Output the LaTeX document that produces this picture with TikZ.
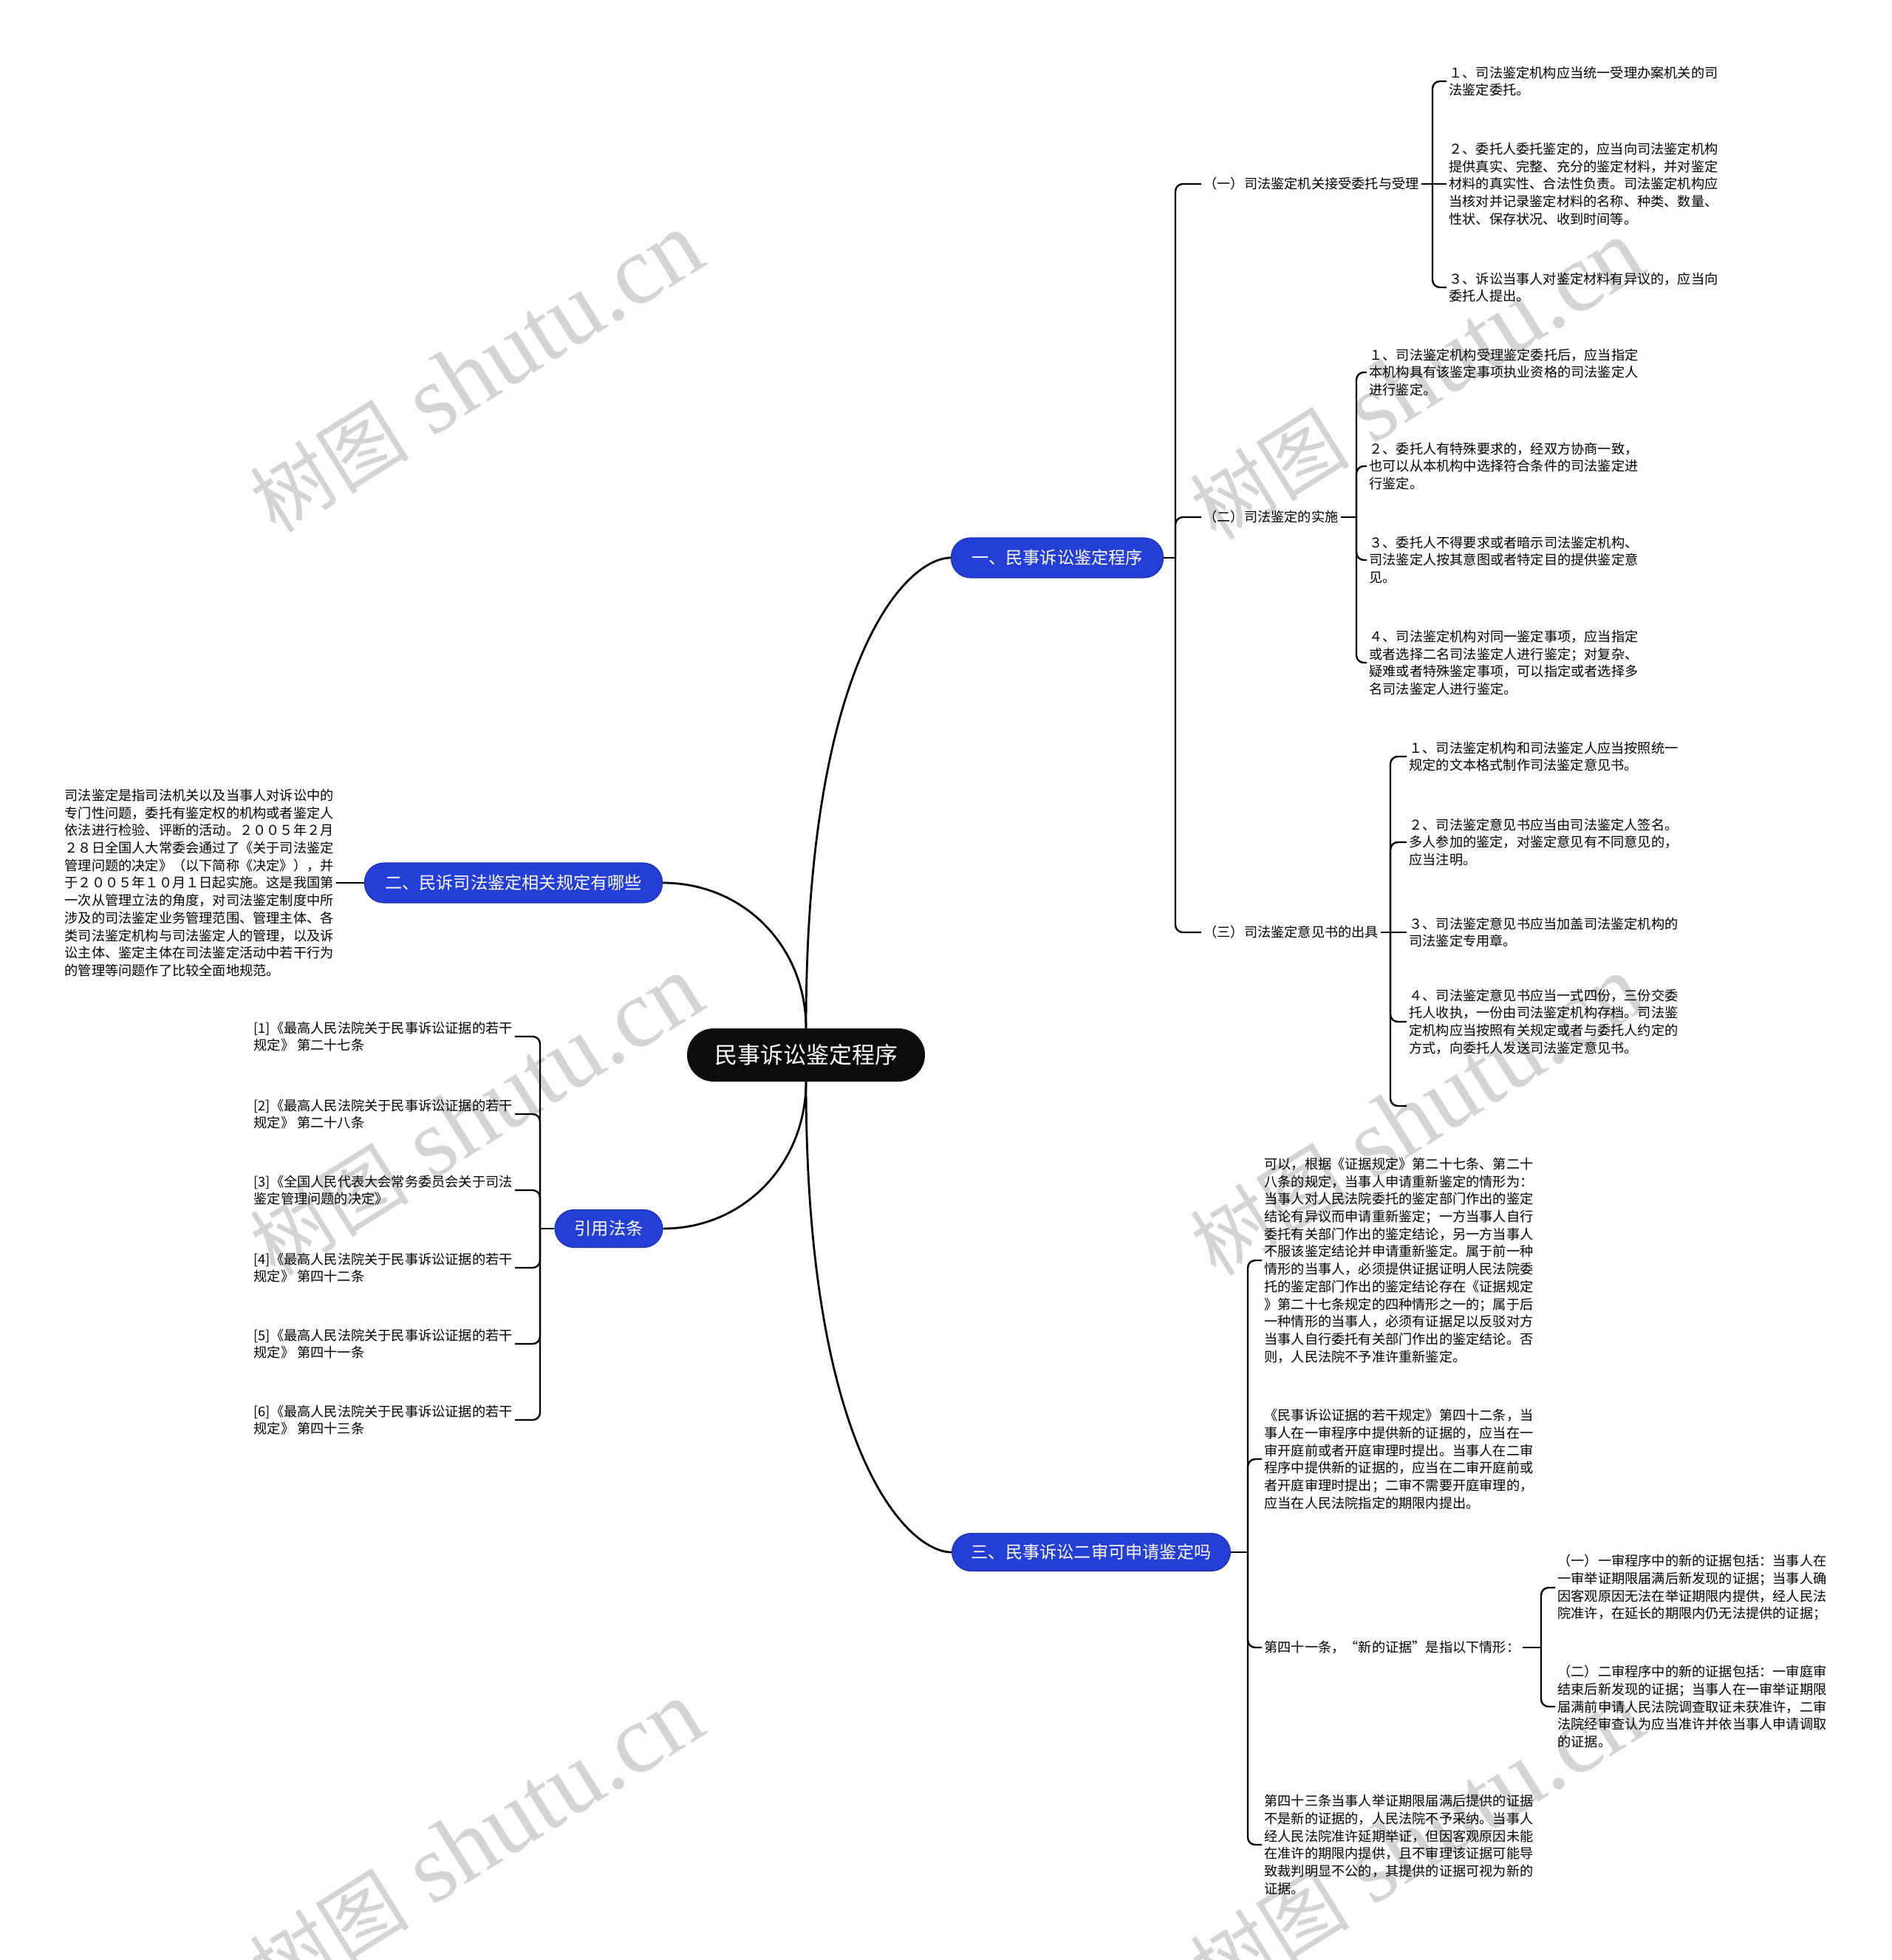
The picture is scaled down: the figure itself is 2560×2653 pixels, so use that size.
\documentclass[tikz,border=0pt]{standalone}
\usepackage{fontspec}
\setmainfont{Noto Sans CJK SC}
\newfontfamily\wmlatin{Liberation Serif}
\usepackage{tikz}
\usetikzlibrary{positioning, calc}
\definecolor{rootblack}{RGB}{12, 12, 12}
\definecolor{topicblue}{RGB}{36, 62, 214}
\definecolor{topicedge}{RGB}{28, 48, 180}
\definecolor{wmgray}{RGB}{212, 212, 212}
\newcommand{\wmtext}{{\fontsize{54}{54}\selectfont 树图}\hspace{16pt}{\wmlatin\fontsize{66}{66}\selectfont shutu.cn}}

\begin{document}
\begin{tikzpicture}[x=0.5pt, y=-0.5pt,
    root/.style={fill=rootblack, text=white, rounded corners=18pt,
                 minimum width=161pt, minimum height=36pt,
                 inner sep=0pt, font=\fontsize{15.5}{18}\selectfont},
    topic/.style={fill=topicblue, draw=topicedge, line width=0.6pt,
                  text=white, rounded corners=13pt, minimum height=27pt,
                  inner sep=0pt, font=\fontsize{11.6}{14}\selectfont},
    sub/.style={inner sep=1.5pt, font=\fontsize{9.1}{11.85}\selectfont},
    leaf/.style={sub, align=left},
    link/.style={line width=1.4pt},
    brace/.style={line width=1.2pt, rounded corners=5pt},
    wm/.style={text=wmgray, rotate=32, inner sep=0pt},
  ]
  \path[use as bounding box, fill=white] (0,0) rectangle (2560,2653);

  % watermarks
  \node[wm] (wm1) at (645, 505) {\wmtext};
  \node[wm] (wm2) at (645, 1511) {\wmtext};
  \node[wm] (wm3) at (645, 2493) {\wmtext};
  \node[wm] (wm4) at (1918, 515) {\wmtext};
  \node[wm] (wm5) at (1918, 1511) {\wmtext};
  \node[wm] (wm6) at (1918, 2493) {\wmtext};

  % root and main topics
  \node[root] (root) at (1091, 1428) {民事诉讼鉴定程序};
  \node[topic, minimum width=143.5pt] (t1) at (1431, 755)
      {一、民事诉讼鉴定程序};
  \node[topic, minimum width=201.5pt] (t2) at (695, 1195)
      {二、民诉司法鉴定相关规定有哪些};
  \node[topic, minimum width=188.5pt, minimum height=25.5pt] (t3)
      at (1477, 2101) {三、民事诉讼二审可申请鉴定吗};
  \node[topic, minimum width=73pt, minimum height=25.5pt] (t4)
      at (824, 1663) {引用法条};

  % branch one
  \node[sub, anchor=west] (p1) at (1626, 249) {（一）司法鉴定机关接受委托与受理};
  \node[sub, anchor=west] (p2) at (1626, 700) {（二）司法鉴定的实施};
  \node[sub, anchor=west] (p3) at (1626, 1262) {（三）司法鉴定意见书的出具};

  \node[leaf, anchor=west] (a1) at (1958, 110)
      {１、司法鉴定机构应当统一受理办案机关的司\\法鉴定委托。};
  \node[leaf, anchor=west] (a2) at (1958, 249)
      {２、委托人委托鉴定的，应当向司法鉴定机构\\提供真实、完整、充分的鉴定材料，并对鉴定\\材料的真实性、合法性负责。司法鉴定机构应\\当核对并记录鉴定材料的名称、种类、数量、\\性状、保存状况、收到时间等。};
  \node[leaf, anchor=west] (a3) at (1958, 389)
      {３、诉讼当事人对鉴定材料有异议的，应当向\\委托人提出。};

  \node[leaf, anchor=west] (b1) at (1850, 504)
      {１、司法鉴定机构受理鉴定委托后，应当指定\\本机构具有该鉴定事项执业资格的司法鉴定人\\进行鉴定。};
  \node[leaf, anchor=west] (b2) at (1850, 631)
      {２、委托人有特殊要求的，经双方协商一致，\\也可以从本机构中选择符合条件的司法鉴定进\\行鉴定。};
  \node[leaf, anchor=west] (b3) at (1850, 758)
      {３、委托人不得要求或者暗示司法鉴定机构、\\司法鉴定人按其意图或者特定目的提供鉴定意\\见。};
  \node[leaf, anchor=west] (b4) at (1850, 897)
      {４、司法鉴定机构对同一鉴定事项，应当指定\\或者选择二名司法鉴定人进行鉴定；对复杂、\\疑难或者特殊鉴定事项，可以指定或者选择多\\名司法鉴定人进行鉴定。};

  \node[leaf, anchor=west] (c1) at (1904, 1024)
      {１、司法鉴定机构和司法鉴定人应当按照统一\\规定的文本格式制作司法鉴定意见书。};
  \node[leaf, anchor=west] (c2) at (1904, 1140)
      {２、司法鉴定意见书应当由司法鉴定人签名。\\多人参加的鉴定，对鉴定意见有不同意见的，\\应当注明。};
  \node[leaf, anchor=west] (c3) at (1904, 1262)
      {３、司法鉴定意见书应当加盖司法鉴定机构的\\司法鉴定专用章。};
  \node[leaf, anchor=west] (c4) at (1904, 1383)
      {４、司法鉴定意见书应当一式四份，三份交委\\托人收执，一份由司法鉴定机构存档。司法鉴\\定机构应当按照有关规定或者与委托人约定的\\方式，向委托人发送司法鉴定意见书。};
  \coordinate (c5) at (1904, 1497);

  % branch two
  \node[leaf, anchor=east] (q1) at (455, 1195)
      {司法鉴定是指司法机关以及当事人对诉讼中的\\专门性问题，委托有鉴定权的机构或者鉴定人\\依法进行检验、评断的活动。２００５年２月\\２８日全国人大常委会通过了《关于司法鉴定\\管理问题的决定》（以下简称《决定》），并\\于２００５年１０月１日起实施。这是我国第\\一次从管理立法的角度，对司法鉴定制度中所\\涉及的司法鉴定业务管理范围、管理主体、各\\类司法鉴定机构与司法鉴定人的管理，以及诉\\讼主体、鉴定主体在司法鉴定活动中若干行为\\的管理等问题作了比较全面地规范。};

  % cited articles
  \node[leaf, anchor=east] (r1) at (697, 1403)
      {[1]《最高人民法院关于民事诉讼证据的若干\\规定》 第二十七条};
  \node[leaf, anchor=east] (r2) at (697, 1508)
      {[2]《最高人民法院关于民事诉讼证据的若干\\规定》 第二十八条};
  \node[leaf, anchor=east] (r3) at (697, 1611)
      {[3]《全国人民代表大会常务委员会关于司法\\鉴定管理问题的决定》\hphantom{第二十八条}};
  \node[leaf, anchor=east] (r4) at (697, 1716)
      {[4]《最高人民法院关于民事诉讼证据的若干\\规定》 第四十二条};
  \node[leaf, anchor=east] (r5) at (697, 1819)
      {[5]《最高人民法院关于民事诉讼证据的若干\\规定》 第四十一条};
  \node[leaf, anchor=east] (r6) at (697, 1922)
      {[6]《最高人民法院关于民事诉讼证据的若干\\规定》 第四十三条};

  % branch three
  \node[leaf, anchor=west] (d1) at (1708, 1706)
      {可以，根据《证据规定》第二十七条、第二十\\八条的规定，当事人申请重新鉴定的情形为：\\当事人对人民法院委托的鉴定部门作出的鉴定\\结论有异议而申请重新鉴定；一方当事人自行\\委托有关部门作出的鉴定结论，另一方当事人\\不服该鉴定结论并申请重新鉴定。属于前一种\\情形的当事人，必须提供证据证明人民法院委\\托的鉴定部门作出的鉴定结论存在《证据规定\\》第二十七条规定的四种情形之一的；属于后\\一种情形的当事人，必须有证据足以反驳对方\\当事人自行委托有关部门作出的鉴定结论。否\\则，人民法院不予准许重新鉴定。};
  \node[leaf, anchor=west] (d2) at (1708, 1975)
      {《民事诉讼证据的若干规定》第四十二条，当\\事人在一审程序中提供新的证据的，应当在一\\审开庭前或者开庭审理时提出。当事人在二审\\程序中提供新的证据的，应当在二审开庭前或\\者开庭审理时提出；二审不需要开庭审理的，\\应当在人民法院指定的期限内提出。};
  \node[sub, anchor=west] (d3) at (1708, 2230)
      {第四十一条，“新的证据”是指以下情形：};
  \node[leaf, anchor=west] (d4) at (1708, 2497)
      {第四十三条当事人举证期限届满后提供的证据\\不是新的证据的，人民法院不予采纳。当事人\\经人民法院准许延期举证，但因客观原因未能\\在准许的期限内提供，且不审理该证据可能导\\致裁判明显不公的，其提供的证据可视为新的\\证据。};

  \node[leaf, anchor=west] (f1) at (2105, 2149)
      {（一）一审程序中的新的证据包括：当事人在\\一审举证期限届满后新发现的证据；当事人确\\因客观原因无法在举证期限内提供，经人民法\\院准许，在延长的期限内仍无法提供的证据；};
  \node[leaf, anchor=west] (f2) at (2105, 2310)
      {（二）二审程序中的新的证据包括：一审庭审\\结束后新发现的证据；当事人在一审举证期限\\届满前申请人民法院调查取证未获准许，二审\\法院经审查认为应当准许并依当事人申请调取\\的证据。};

  % curves out of the root
  \draw[link] (root.north) .. controls +(0,-500) and +(-60,0) .. (t1.west);
  \draw[link] (root.north) .. controls +(0,-110) and +(110,0) .. (t2.east);
  \draw[link] (root.south) .. controls +(0,110) and +(110,0) .. (t4.east);
  \draw[link] (root.south) .. controls +(0,500) and +(-60,0) .. (t3.west);

  % brackets
  \coordinate (s1) at (1591, 755);
  \draw[brace] (t1.east) -- (s1);
  \foreach \c in {p1, p2, p3} \draw[brace] (s1) |- (\c.west);

  \coordinate (s2) at (1939, 249);
  \draw[brace] (p1.east) -- (s2) -- (a2.west);
  \foreach \c in {a1, a3} \draw[brace] (s2) |- (\c.west);

  \coordinate (s3) at (1836, 700);
  \draw[brace] (p2.east) -- (s3);
  \foreach \c in {b1, b2, b3, b4} \draw[brace] (s3) |- (\c.west);

  \coordinate (s4) at (1882, 1262);
  \draw[brace] (p3.east) -- (s4) -- (c3.west);
  \foreach \c in {c1, c2, c4} \draw[brace] (s4) |- (\c.west);
  \draw[brace] (s4) |- (c5);

  \draw[brace] (t2.west) -- (q1.east);

  \coordinate (s5) at (731, 1663);
  \draw[brace] (t4.west) -- (s5);
  \foreach \c in {r1, r2, r3, r4, r5, r6} \draw[brace] (s5) |- (\c.east);

  \coordinate (s6) at (1689, 2101);
  \draw[brace] (t3.east) -- (s6);
  \foreach \c in {d1, d2, d3, d4} \draw[brace] (s6) |- (\c.west);

  \coordinate (s7) at (2086, 2230);
  \draw[brace] (d3.east) -- (s7);
  \foreach \c in {f1, f2} \draw[brace] (s7) |- (\c.west);
\end{tikzpicture}
\end{document}
